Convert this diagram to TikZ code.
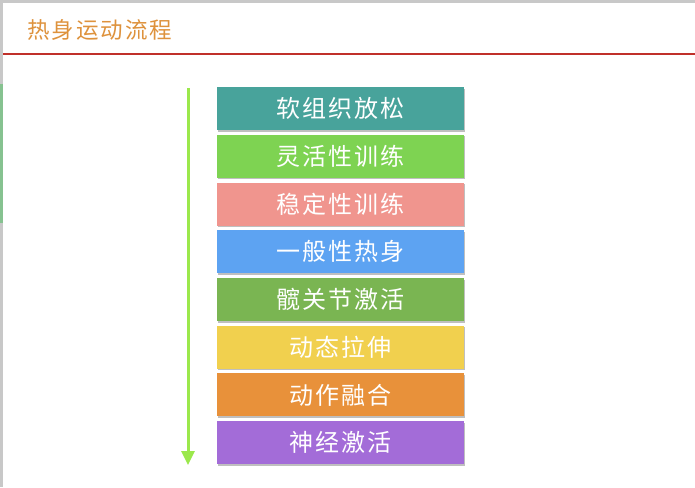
\documentclass[tikz,border=0pt]{standalone}
\usepackage{fontspec}
\newfontfamily\cjk{Noto Sans CJK SC}
\newfontfamily\cjkbox[LetterSpace=9]{Noto Sans CJK SC}
\newfontfamily\cjktitle[LetterSpace=9]{Noto Sans CJK SC}
\usetikzlibrary{arrows.meta}
\definecolor{cA}{HTML}{48A39B}
\definecolor{cB}{HTML}{7ED352}
\definecolor{cC}{HTML}{F0958E}
\definecolor{cD}{HTML}{5DA3F2}
\definecolor{cE}{HTML}{7AB552}
\definecolor{cF}{HTML}{F1D04E}
\definecolor{cG}{HTML}{E8913A}
\definecolor{cH}{HTML}{A36CD8}
\definecolor{titlecol}{HTML}{DE923C}
\definecolor{rulecol}{HTML}{C0302A}
\definecolor{arrowcol}{HTML}{9BE84C}
\definecolor{edgegray}{HTML}{C8C8C8}
\definecolor{edgegreen}{HTML}{86C290}
\tikzset{
  stepbox/.style={fill=#1, minimum width=247pt, minimum height=43pt, inner sep=0pt,
    text=white, font=\cjkbox\fontsize{24}{26}\selectfont, anchor=north},
  shadowbox/.style={fill=black!25, minimum width=247pt, minimum height=43pt, inner sep=0pt, anchor=north},
}
\begin{document}
\begin{tikzpicture}[x=1pt,y=-1pt]
\useasboundingbox (0,0) rectangle (695,487);
\fill[white] (0,0) rectangle (695,487);
\fill[edgegray] (0,0) rectangle (695,3);
\fill[edgegray] (0,0) rectangle (3,487);
\fill[edgegreen] (0,84) rectangle (3,223);
\node[anchor=west, text=titlecol, font=\cjktitle\fontsize{22.5}{24}\selectfont, inner sep=0pt] (title) at (27,30) {热身运动流程};
\coordinate (ruleL) at (3,54);
\coordinate (ruleR) at (695,54);
\draw[rulecol, line width=1.2pt] (ruleL) -- (ruleR);
\foreach \i/\t/\c in {0/软组织放松/cA,1/灵活性训练/cB,2/稳定性训练/cC,3/一般性热身/cD,4/髋关节激活/cE,5/动态拉伸/cF,6/动作融合/cG,7/神经激活/cH}{
  \node[shadowbox] (s\i) at (341.5,{87+47.7*\i+1.5}) {};
  \node[stepbox=\c] (b\i) at (340.5,{87+47.7*\i}) {\t};
}
\coordinate (arrTop) at (188,88);
\coordinate (arrBot) at (188,465);
\draw[arrowcol, line width=3pt, -{Triangle[width=13pt,length=14pt]}] (arrTop) -- (arrBot);
\end{tikzpicture}
\end{document}
